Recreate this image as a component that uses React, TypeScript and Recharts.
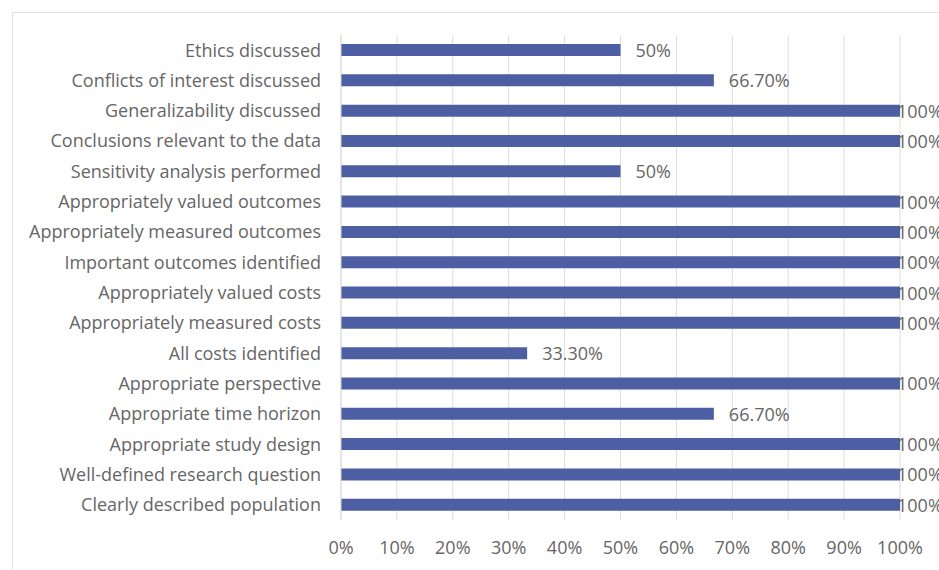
import { BarChart, Bar, XAxis, YAxis, CartesianGrid, LabelList } from 'recharts'

const criteria = [
  'Ethics discussed',
  'Conflicts of interest discussed',
  'Generalizability discussed',
  'Conclusions relevant to the data',
  'Sensitivity analysis performed',
  'Appropriately valued outcomes',
  'Appropriately measured outcomes',
  'Important outcomes identified',
  'Appropriately valued costs',
  'Appropriately measured costs',
  'All costs identified',
  'Appropriate perspective',
  'Appropriate time horizon',
  'Appropriate study design',
  'Well-defined research question',
  'Clearly described population',
]

const scores = [50, 66.7, 100, 100, 50, 100, 100, 100, 100, 100, 33.3, 100, 66.7, 100, 100, 100]

const xTicks = [0, 10, 20, 30, 40, 50, 60, 70, 80, 90, 100]

const data = criteria.map((name, i) => ({ name, score: scores[i] }))

const textColor = '#666666'
const fontFamily = '"Open Sans", Lato, sans-serif'
const fontSize = 18

const fmtLabel = (v: number) => (Number.isInteger(v) ? `${v}%` : `${v.toFixed(2)}%`)

// value labels; the 100% ones sit on the bar end since there's no room to the right
const BarValue = (props: any) => {
  const { x, y, width, height, value } = props
  const full = value >= 100
  return (
    <text
      x={full ? x + width - 3 : x + width + 15}
      y={y + height / 2}
      dominantBaseline="central"
      fill={textColor}
      fontSize={fontSize}
      fontFamily={fontFamily}
    >
      {fmtLabel(value)}
    </text>
  )
}

const App = () => {
  return (
    <div style={{ position: 'absolute', left: 0, top: 0, width: 939, height: 570, background: '#fff', overflow: 'hidden' }}>
      {/* faint frame around the chart */}
      <div
        style={{
          position: 'absolute',
          left: 12,
          top: 12,
          width: 960,
          height: 600,
          borderLeft: '1px solid #e3e3e3',
          borderTop: '1px solid #e3e3e3',
        }}
      />
      <div style={{ position: 'absolute', left: 0, top: 0 }}>
        <BarChart
          width={939}
          height={570}
          data={data}
          layout="vertical"
          margin={{ top: 35, right: 39, bottom: 0, left: 0 }}
          barSize={12}
        >
          <CartesianGrid horizontal={false} stroke="#dcdcdc" />
          <XAxis
            type="number"
            dataKey="score"
            domain={[0, 100]}
            ticks={xTicks}
            tickFormatter={(v) => `${v}%`}
            axisLine={false}
            tickLine={false}
            tickMargin={15}
            height={50}
            tick={{ fill: textColor, fontSize, fontFamily }}
            interval={0}
          />
          <YAxis
            type="category"
            dataKey="name"
            width={341}
            axisLine={{ stroke: '#dcdcdc' }}
            tickLine={false}
            tickMargin={14}
            interval={0}
            tick={{ fill: textColor, fontSize, fontFamily }}
          />
          <Bar dataKey="score" fill="#4e5ea3" isAnimationActive={false}>
            <LabelList dataKey="score" content={BarValue} />
          </Bar>
        </BarChart>
      </div>
    </div>
  )
}

export default App
